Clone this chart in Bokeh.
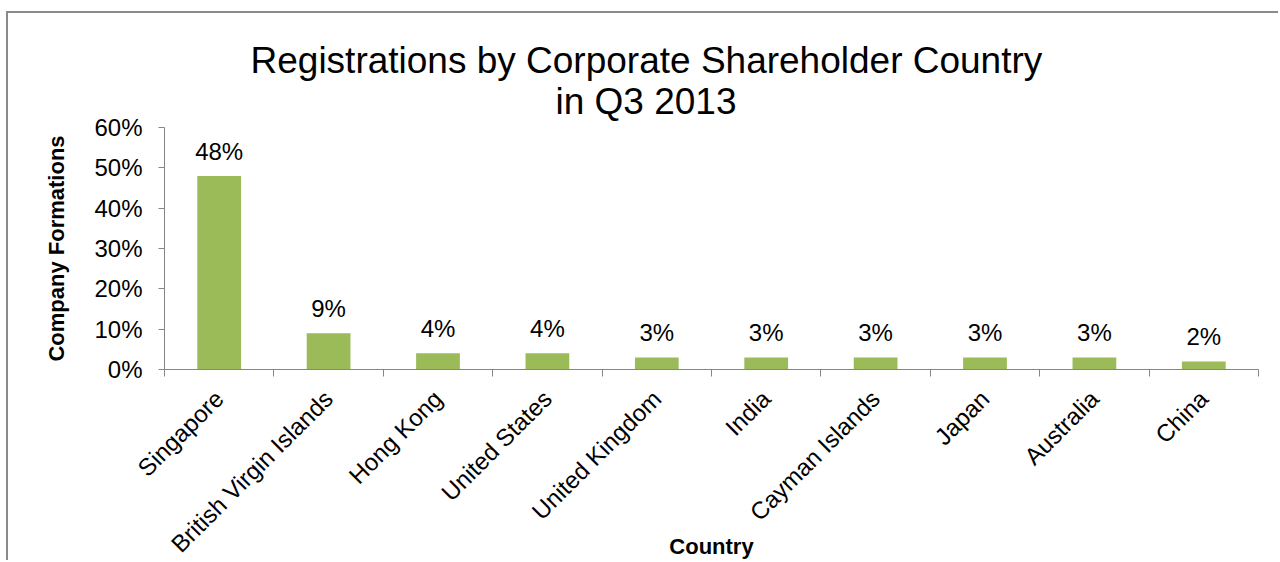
import math
from bokeh.plotting import figure
from bokeh.models import (ColumnDataSource, LabelSet, Range1d, FixedTicker,
                          NumeralTickFormatter, Title)
from bokeh.core.properties import value
from bokeh.embed import file_html
from bokeh.resources import INLINE

# ---- data ----
countries = ["Singapore", "British Virgin Islands", "Hong Kong", "United States",
             "United Kingdom", "India", "Cayman Islands", "Japan", "Australia", "China"]
shares_pct = [48, 9, 4, 4, 3, 3, 3, 3, 3, 2]
y_ticks_pct = [0, 10, 20, 30, 40, 50, 60]
title_lines = ["Registrations by Corporate Shareholder Country", "in Q3 2013"]
x_title = "Country"
y_title = "Company Formations"

FONT = "Liberation Sans"
GREEN = "#9BBB59"
AXIS = "#868686"

n = len(countries)
centers = [i + 0.5 for i in range(n)]
bounds = list(range(n + 1))
src = ColumnDataSource(dict(
    x=centers,
    top=[v / 100 for v in shares_pct],
    label=[f"{v}%" for v in shares_pct],
))

p = figure(width=1272, height=549, output_backend="svg", toolbar_location=None,
           x_range=Range1d(0, n), y_range=Range1d(0, y_ticks_pct[-1] / 100),
           min_border_left=156, min_border_right=22, min_border_top=114,
           min_border_bottom=192)
p.styles = {"margin-left": "6px", "margin-top": "11px",
            "border-left": "2px solid #8a8a8a", "border-top": "2px solid #8a8a8a"}
p.outline_line_color = None
p.grid.visible = False
p.background_fill_color = "white"
p.border_fill_color = "white"

p.vbar(x="x", top="top", width=0.4, source=src, fill_color=GREEN, line_color=None)

p.add_layout(LabelSet(x="x", y="top", text="label", source=src, y_offset=16,
                      text_align="center", text_baseline="alphabetic",
                      text_font=value(FONT), text_font_size=value("24px"),
                      text_color="black"))

# y axis
ya = p.yaxis[0]
ya.ticker = FixedTicker(ticks=[v / 100 for v in y_ticks_pct], minor_ticks=[])
ya.formatter = NumeralTickFormatter(format="0%")
ya.axis_line_color = AXIS
ya.major_tick_line_color = AXIS
ya.major_tick_in = 0
ya.major_tick_out = 6
ya.minor_tick_line_color = None
ya.major_label_standoff = 16
ya.major_label_text_font = FONT
ya.major_label_text_font_size = "24px"
ya.major_label_text_color = "black"
ya.axis_label = y_title
ya.axis_label_text_font = FONT
ya.axis_label_text_font_size = "22px"
ya.axis_label_text_font_style = "bold"
ya.axis_label_text_color = "black"
ya.axis_label_standoff = 22

# x axis: labels at category centres, tick marks at category boundaries
xa = p.xaxis[0]
xa.ticker = FixedTicker(ticks=centers, minor_ticks=bounds)
xa.major_label_overrides = {c: name for c, name in zip(centers, countries)}
xa.major_label_orientation = math.pi / 4
xa.axis_line_color = AXIS
xa.major_tick_line_color = None
xa.minor_tick_line_color = AXIS
xa.minor_tick_in = 0
xa.minor_tick_out = 7
xa.major_label_standoff = 18
xa.major_label_text_font = FONT
xa.major_label_text_font_size = "24px"
xa.major_label_text_color = "black"
xa.axis_label = x_title
xa.axis_label_text_font = FONT
xa.axis_label_text_font_size = "22px"
xa.axis_label_text_font_style = "bold"
xa.axis_label_text_color = "black"
xa.axis_label_standoff = -36

# two-line title: first line is the outer title, second line sits nearest the frame
p.title.text = title_lines[0]
p.title.align = "left"
p.title.offset = 86
p.title.standoff = -16
p.title.text_font = FONT
p.title.text_font_size = "37px"
p.title.text_font_style = "normal"
p.title.text_color = "black"
p.add_layout(Title(text=title_lines[1], align="left", offset=391, standoff=12,
                   text_font=FONT, text_font_size="37px", text_font_style="normal",
                   text_color="black"), "above")

open("out.html", "w").write(file_html(p, INLINE))
